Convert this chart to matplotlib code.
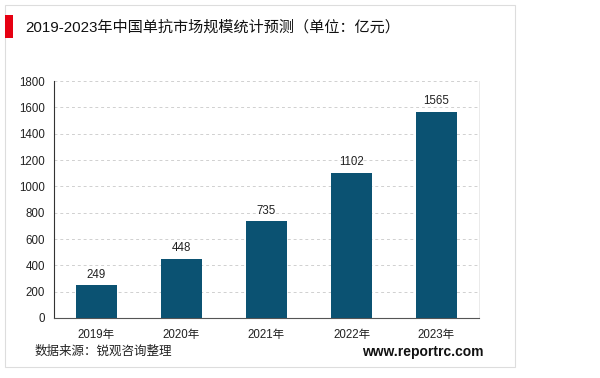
import matplotlib
matplotlib.use("Agg")
import matplotlib.pyplot as plt
from matplotlib.patches import Rectangle

plt.rcParams['font.family'] = ['Liberation Sans', 'Noto Sans CJK SC']

# 数据
years = ["2019年", "2020年", "2021年", "2022年", "2023年"]
values = [249, 448, 735, 1102, 1565]
y_ticks = [0, 200, 400, 600, 800, 1000, 1200, 1400, 1600, 1800]

BAR_COLOR = "#0B5272"

fig = plt.figure(figsize=(6, 3.78), dpi=100)
fig.patch.set_facecolor("white")

# 外框和红色标记
fig.patches.append(Rectangle((5 / 600, 1 - 367 / 378), 510 / 600, 362 / 378,
                             transform=fig.transFigure, fill=False,
                             edgecolor="#DDDDDD", linewidth=0.8))
fig.patches.append(Rectangle((5 / 600, 1 - 38 / 378), 8 / 600, 23 / 378,
                             transform=fig.transFigure, facecolor="#E60012",
                             edgecolor="none"))

fig.text(25 / 600, 1 - 27 / 378, "2019-2023年中国单抗市场规模统计预测（单位：亿元）",
         fontsize=10.9, va="center", ha="left", color="#111111")

ax = fig.add_axes([54 / 600, 1 - 318 / 378, 425 / 600, 237 / 378])
x = range(len(years))
bars = ax.bar(x, values, width=0.49, color=BAR_COLOR, zorder=3)
for i, v in enumerate(values):
    ax.text(i, v + 35, str(v), ha="center", va="bottom", fontsize=8.3, color="#222222")

ax.set_xlim(-0.5, len(years) - 0.5)
ax.set_ylim(0, 1800)
ax.set_yticks(y_ticks)
ax.set_xticks(list(x))
ax.set_xticklabels(years)
ax.tick_params(axis="both", length=0, labelsize=8.3, colors="#222222")
ax.tick_params(axis="y", pad=6.5)
ax.tick_params(axis="x", pad=8)
ax.grid(axis="y", linestyle=(0, (3, 3)), color="#D0D0D0", linewidth=0.7, zorder=0)
ax.spines["top"].set_visible(False)
ax.spines["right"].set_color("#E6E6E6")
ax.spines["right"].set_linewidth(0.6)
ax.spines["left"].set_color("#333333")
ax.spines["bottom"].set_color("#555555")

fig.text(35 / 600, 1 - 352 / 378, "数据来源：锐观咨询整理", fontsize=9,
         va="center", ha="left", color="#222222")
fig.text(484 / 600, 1 - 352 / 378, "www.reportrc.com", fontsize=10,
         fontweight="bold", va="center", ha="right", color="#111111")

fig.savefig("out.png", dpi=100)
